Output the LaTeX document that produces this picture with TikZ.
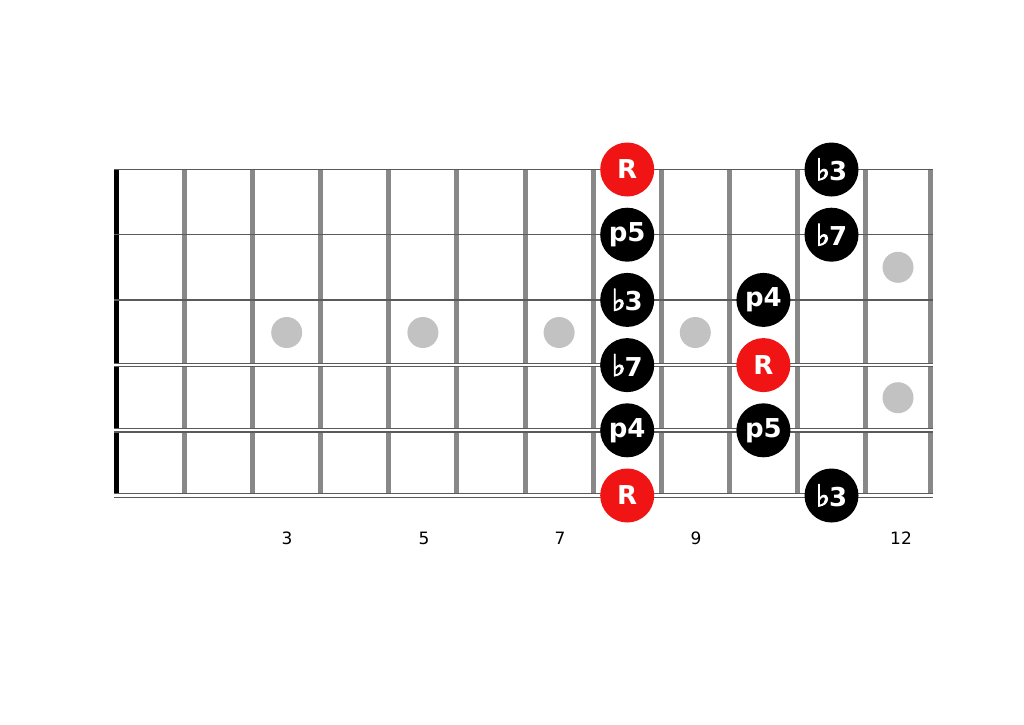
\documentclass[tikz,border=0pt]{standalone}
\usepackage{fontspec}
\setmainfont{DejaVu Sans}
\newfontfamily\flatfont[FakeBold=3]{DejaVu Sans}
\definecolor{fretGray}{HTML}{888888}
\definecolor{stringGray}{HTML}{5A5A5A}
\definecolor{inlayGray}{HTML}{C2C2C2}
\definecolor{rootRed}{HTML}{F01414}
\newcommand{\fl}{{\flatfont\fontsize{30}{30}\selectfont ♭}\kern-1pt}

\begin{document}
\begin{tikzpicture}[x=1pt,y=-1pt,
    note/.style={circle,fill=black,text=white,minimum size=54pt,inner sep=0pt,font=\fontsize{26}{26}\selectfont\bfseries},
    root/.style={note,fill=rootRed},
    inlay/.style={circle,fill=inlayGray,minimum size=31pt,inner sep=0pt},
    fretnum/.style={font=\fontsize{17}{17}\selectfont},
    fretwire/.style={draw=fretGray,line width=5pt},
    plain string/.style={draw=stringGray},
    wound string/.style={draw=stringGray,double=white,line width=1.2pt}]
    \useasboundingbox (0,0) rectangle (1024,724);
    % nut and frets
    \draw [line width=5pt] (116.5,169.5) -- (116.5,495.5);
    \draw [fretwire] (184.5,169.5) -- (184.5,495.5);
    \draw [fretwire] (252.6,169.5) -- (252.6,495.5);
    \draw [fretwire] (320.7,169.5) -- (320.7,495.5);
    \draw [fretwire] (388.8,169.5) -- (388.8,495.5);
    \draw [fretwire] (456.9,169.5) -- (456.9,495.5);
    \draw [fretwire] (525.0,169.5) -- (525.0,495.5);
    \draw [fretwire] (593.1,169.5) -- (593.1,495.5);
    \draw [fretwire] (661.2,169.5) -- (661.2,495.5);
    \draw [fretwire] (729.3,169.5) -- (729.3,495.5);
    \draw [fretwire] (797.4,169.5) -- (797.4,495.5);
    \draw [fretwire] (865.5,169.5) -- (865.5,495.5);
    \draw [fretwire] (930.5,169.5) -- (930.5,495.5);
    % strings
    \draw [plain string,line width=1pt] (114,169.5) -- (933,169.5);
    \draw [plain string,line width=1.5pt] (114,234.7) -- (933,234.7);
    \draw [plain string,line width=2pt] (114,299.9) -- (933,299.9);
    \draw [wound string,double distance=1.6pt] (114,365.1) -- (933,365.1);
    \draw [wound string,double distance=2pt] (114,430.3) -- (933,430.3);
    \draw [wound string,double distance=2.6pt] (114,495.5) -- (933,495.5);
    % inlays
    \node [inlay] (inlay3) at (286.7,332.5) {};
    \node [inlay] (inlay5) at (422.9,332.5) {};
    \node [inlay] (inlay7) at (559.1,332.5) {};
    \node [inlay] (inlay9) at (695.3,332.5) {};
    \node [inlay] (inlay12a) at (898,267.3) {};
    \node [inlay] (inlay12b) at (898,397.7) {};
    % fret numbers
    \node [fretnum] (num3) at (287,538) {3};
    \node [fretnum] (num5) at (424,538) {5};
    \node [fretnum] (num7) at (560,538) {7};
    \node [fretnum] (num9) at (696,538) {9};
    \node [fretnum] (num12) at (901,538) {12};
    % scale notes
    \node [root] (r8a) at (627.2,169.5) {R};
    \node [note] (p5a) at (627.2,234.7) {p5};
    \node [note] (b3a) at (627.2,299.9) {\fl3};
    \node [note] (b7a) at (627.2,365.1) {\fl7};
    \node [note] (p4a) at (627.2,430.3) {p4};
    \node [root] (r8b) at (627.2,495.5) {R};
    \node [note] (p4b) at (763.4,299.9) {p4};
    \node [root] (r10) at (763.4,365.1) {R};
    \node [note] (p5b) at (763.4,430.3) {p5};
    \node [note] (b3b) at (831.5,169.5) {\fl3};
    \node [note] (b7b) at (831.5,234.7) {\fl7};
    \node [note] (b3c) at (831.5,495.5) {\fl3};
\end{tikzpicture}
\end{document}
